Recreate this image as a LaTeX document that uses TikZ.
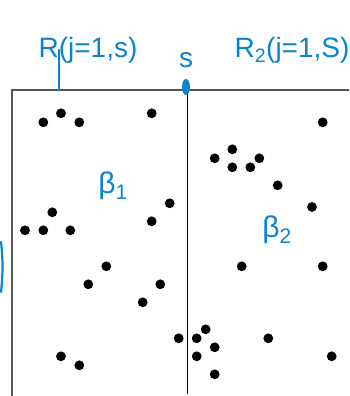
\documentclass[tikz,border=0pt]{standalone}
\usepackage{fontspec}
\setmainfont{Liberation Sans}
\definecolor{ink}{HTML}{0A84CC}
\definecolor{frame}{HTML}{555555}
\begin{document}
\begin{tikzpicture}[x=1pt,y=-1pt,
  dot/.style={circle,fill=black,inner sep=0pt,minimum size=9.8pt},
  hand/.style={text=ink,font=\fontsize{28}{28}\selectfont,inner sep=0pt},
  greek/.style={text=ink,font=\fontsize{30}{30}\selectfont,inner sep=0pt},
  framestyle/.style={draw=frame,line width=1.4pt},
  divider/.style={draw=black,line width=1.8pt}]
\useasboundingbox (0,0) rectangle (349,396);
% frame
\draw[framestyle] (12,396) -- (12,90) -- (349,90);
\draw[divider] (187.5,90) -- (187.5,394);
% left dots
\foreach \x/\y [count=\i] in {43.3/122.3, 61/113.3, 79.3/122.3, 151.7/113.3,
  169.7/203.3, 151.7/221.3, 52.3/212.3, 25/230.3, 43.3/230.3, 70.3/230.3,
  106.3/266.3, 88.3/284.3, 160.3/284.3, 142.7/302.3, 178.7/338.3,
  61/356.3, 79.3/365.3}
  \node[dot] (l\i) at (\x,\y) {};
% right dots
\foreach \x/\y [count=\i] in {322.7/122.3, 214.7/158.3, 232.3/149.3, 232.3/167.3,
  250.3/167.3, 259.3/158.3, 277.7/185.3, 312/207, 241.7/266.3, 322.7/266.3,
  196.7/338.3, 205.7/329.3, 214.7/347.3, 196.7/356.3, 214.7/374.3,
  268.3/338.3, 331.7/356.3}
  \node[dot] (r\i) at (\x,\y) {};
% annotations
\node[hand] (t1) at (88,50) {R(j=1,s)};
\draw[ink,line width=2.2pt,line cap=round] (59,50) -- (59,90);
\node[hand] (ts) at (186,60) {s};
\fill[ink] (186,87) ellipse (4pt and 8pt);
\node[hand] (t2) at (292,50) {R\textsubscript{2}(j=1,S)};
\node[greek] (b1) at (113,186) {β\textsubscript{1}};
\node[greek] (b2) at (277,230) {β\textsubscript{2}};
\draw[ink,line width=2.2pt,line cap=round] (1,242) .. controls (3,258) and (3,275) .. (1,292);
\end{tikzpicture}
\end{document}
